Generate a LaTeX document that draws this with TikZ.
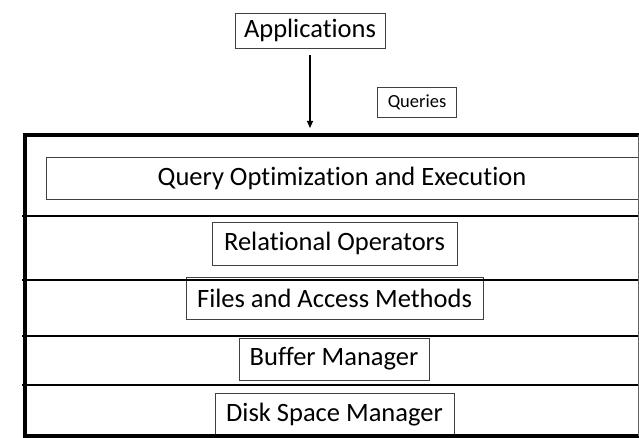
\documentclass[tikz,border=0pt]{standalone}
\usepackage{fontspec}
\setmainfont{Carlito}[Ligatures={NoCommon}]
\usetikzlibrary{arrows.meta}
\begin{document}
\begin{tikzpicture}[x=1pt,y=-1pt,
  lbox/.style={draw=black!75,line width=0.8pt,inner sep=0pt,font=\fontsize{26.5}{28}\selectfont},
  divider/.style={line width=2pt},
  frame/.style={line width=4pt}]
\useasboundingbox (0,0) rectangle (639,438);
% layer boxes
\node[lbox,minimum width=592pt,minimum height=42pt] (qo) at (342,178) {Query Optimization and Execution};
\node[lbox,minimum width=245pt,minimum height=43pt] (ro) at (334.5,243.5) {Relational Operators};
\node[lbox,minimum width=297pt,minimum height=42pt] (fa) at (334.5,298) {Files and Access Methods};
\node[lbox,minimum width=190pt,minimum height=42pt] (bm) at (334,359) {Buffer Manager};
\node[lbox,minimum width=239pt,minimum height=43pt] (ds) at (334.5,414.5) {Disk Space Manager};
% dividers
\draw[divider] (22,216) -- (639,216);
\draw[divider] (22,280) -- (639,280);
\draw[divider] (22,336) -- (639,336);
\draw[divider] (22,385) -- (639,385);
% frame
\draw[frame] (639,135) -- (25,135) -- (25,436) -- (639,436);
\draw[line width=1pt,black!60] (638,135) -- (638,436);
% top
\node[lbox,minimum width=150pt,minimum height=35pt] (app) at (310,30.5) {Applications};
\node[lbox,minimum width=79pt,minimum height=30pt,font=\fontsize{18.5}{20}\selectfont] (q) at (417,102) {Queries};
\coordinate (top) at (310,128);
\draw[line width=1.2pt,-{Triangle[length=7pt,width=6pt]}] ([yshift=-7pt]app.south) -- (top);
\end{tikzpicture}
\end{document}
